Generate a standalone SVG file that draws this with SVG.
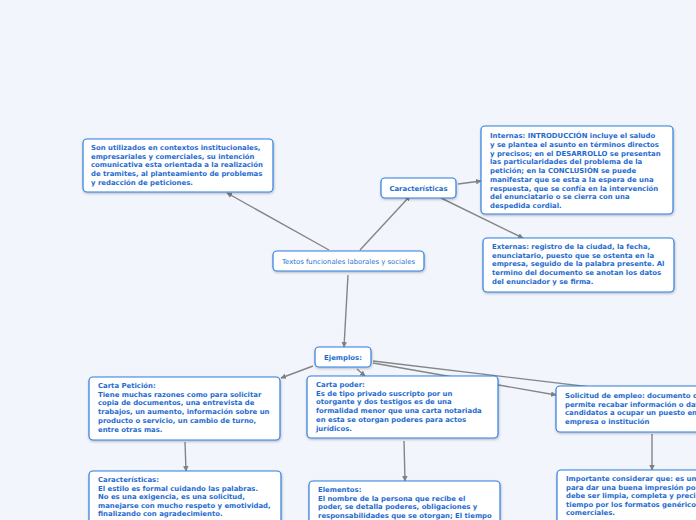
<svg xmlns="http://www.w3.org/2000/svg" width="696" height="520" viewBox="0 0 696 520">
<defs>
<marker id="ah" viewBox="0 0 10 10" refX="9" refY="5" markerWidth="5.5" markerHeight="5.5" orient="auto" markerUnits="userSpaceOnUse"><path d="M0,0 L10,5 L0,10 z" fill="#808080"/></marker>
<filter id="sh" x="-10%" y="-10%" width="120%" height="130%"><feDropShadow dx="0.5" dy="1.2" stdDeviation="0.8" flood-color="#000" flood-opacity="0.25"/></filter>
</defs>
<style>
.bx{fill:#fff;stroke:#2f7fe0;stroke-width:1.2;filter:url(#sh)}
.t{font-family:"DejaVu Sans",Verdana,sans-serif;font-size:6.9px;font-weight:bold;fill:#1e6bd0}
.tn{font-family:"DejaVu Sans",Verdana,sans-serif;font-size:6.9px;fill:#2a72d4}
.c{stroke:#858585;stroke-width:1.4;fill:none}
</style>
<rect width="696" height="520" fill="#f3f5fd"/>
<g id="connectors">
<line class="c" x1="329" y1="250" x2="227" y2="193" marker-end="url(#ah)"/>
<line class="c" x1="360" y1="250" x2="410" y2="196" marker-end="url(#ah)"/>
<line class="c" x1="458" y1="184" x2="481" y2="181" marker-end="url(#ah)"/>
<line class="c" x1="441" y1="198" x2="523" y2="238" marker-end="url(#ah)"/>
<line class="c" x1="348" y1="275" x2="344" y2="347" marker-end="url(#ah)"/>
<line class="c" x1="313" y1="366" x2="281" y2="378" marker-end="url(#ah)"/>
<line class="c" x1="357" y1="369" x2="365" y2="376" marker-end="url(#ah)"/>
<line class="c" x1="373" y1="363" x2="556" y2="395" marker-end="url(#ah)"/>
<line class="c" x1="373" y1="361" x2="700" y2="400"/>
<line class="c" x1="185" y1="442" x2="186" y2="471" marker-end="url(#ah)"/>
<line class="c" x1="404" y1="441" x2="405" y2="481" marker-end="url(#ah)"/>
<line class="c" x1="652" y1="434" x2="652" y2="470" marker-end="url(#ah)"/>
</g>
<g id="n-son"><rect class="bx" x="83" y="139" width="190" height="53" rx="4"/>
<text class="t" x="91" y="150">Son utilizados en contextos institucionales,<tspan x="91" dy="8.7">empresariales y comerciales, su intención</tspan><tspan x="91" dy="8.7">comunicativa esta orientada a la realización</tspan><tspan x="91" dy="8.7">de tramites, al planteamiento de problemas</tspan><tspan x="91" dy="8.7">y redacción de peticiones.</tspan></text></g>
<g id="n-caract"><rect class="bx" x="381" y="178" width="75" height="20" rx="4"/>
<text class="t" x="418.5" y="190.5" text-anchor="middle">Características</text></g>
<g id="n-internas"><rect class="bx" x="481" y="126" width="192" height="88" rx="4"/>
<text class="t" x="490" y="138">Internas:  INTRODUCCIÓN incluye el saludo<tspan x="490" dy="8.75">y se plantea el asunto en términos directos</tspan><tspan x="490" dy="8.75">y precisos; en el DESARROLLO se presentan</tspan><tspan x="490" dy="8.75">las particularidades del problema de la</tspan><tspan x="490" dy="8.75">petición; en la CONCLUSIÓN  se puede</tspan><tspan x="490" dy="8.75">manifestar que se esta a la espera de una</tspan><tspan x="490" dy="8.75">respuesta, que se confía en la intervención</tspan><tspan x="490" dy="8.75">del enunciatario o se cierra con una</tspan><tspan x="490" dy="8.75">despedida cordial.</tspan></text></g>
<g id="n-externas"><rect class="bx" x="483" y="238" width="191" height="54" rx="4"/>
<text class="t" x="492" y="249">Externas: registro de la ciudad, la fecha,<tspan x="492" dy="8.7">enunciatario, puesto que se ostenta en la</tspan><tspan x="492" dy="8.7">empresa, seguido de la palabra presente. Al</tspan><tspan x="492" dy="8.7">termino del documento se anotan los datos</tspan><tspan x="492" dy="8.7">del enunciador y se firma.</tspan></text></g>
<g id="n-central"><rect class="bx" x="273" y="251" width="151" height="20" rx="4"/>
<text class="tn" x="348.5" y="264" text-anchor="middle">Textos funcionales laborales y sociales</text></g>
<g id="n-ejemplos"><rect class="bx" x="315" y="347" width="56" height="20" rx="4"/>
<text class="t" x="343" y="360" text-anchor="middle">Ejemplos:</text></g>
<g id="n-peticion"><rect class="bx" x="89" y="377" width="191" height="63" rx="4"/>
<text class="t" x="98" y="388">Carta Petición:<tspan x="98" dy="8.7">Tiene muchas razones como para solicitar</tspan><tspan x="98" dy="8.7">copia de documentos, una entrevista de</tspan><tspan x="98" dy="8.7">trabajos, un aumento, información sobre un</tspan><tspan x="98" dy="8.7">producto o servicio, un cambio de turno,</tspan><tspan x="98" dy="8.7">entre otras mas.</tspan></text></g>
<g id="n-poder"><rect class="bx" x="307" y="376" width="191" height="62" rx="4"/>
<text class="t" x="316" y="387">Carta poder:<tspan x="316" dy="8.7">Es de tipo privado suscripto por un</tspan><tspan x="316" dy="8.7">otorgante y dos testigos es de una</tspan><tspan x="316" dy="8.7">formalidad menor que una carta notariada</tspan><tspan x="316" dy="8.7">en esta se otorgan poderes para actos</tspan><tspan x="316" dy="8.7">jurídicos.</tspan></text></g>
<g id="n-solicitud"><rect class="bx" x="556" y="386" width="160" height="46" rx="4"/>
<text class="t" x="565" y="398">Solicitud de empleo: documento que<tspan x="565" dy="8.7">permite recabar información o datos de</tspan><tspan x="565" dy="8.7">candidatos a ocupar un puesto en la</tspan><tspan x="565" dy="8.7">empresa o institución</tspan></text></g>
<g id="n-caract2"><rect class="bx" x="89" y="471" width="192" height="60" rx="4"/>
<text class="t" x="98" y="482">Características:<tspan x="98" dy="8.6">El estilo es formal cuidando las palabras.</tspan><tspan x="98" dy="8.6">No es una exigencia, es una solicitud,</tspan><tspan x="98" dy="8.6">manejarse con mucho respeto y emotividad,</tspan><tspan x="98" dy="8.6">finalizando con agradecimiento.</tspan></text></g>
<g id="n-elementos"><rect class="bx" x="309" y="481" width="191" height="50" rx="4"/>
<text class="t" x="318" y="492">Elementos:<tspan x="318" dy="8.6">El nombre de la persona que recibe el</tspan><tspan x="318" dy="8.6">poder, se detalla poderes, obligaciones y</tspan><tspan x="318" dy="8.6">responsabilidades que se otorgan; El tiempo</tspan></text></g>
<g id="n-importante"><rect class="bx" x="557" y="470" width="160" height="60" rx="4"/>
<text class="t" x="566" y="481">Importante considerar que: es un<tspan x="566" dy="8.6">para dar una buena impresión por</tspan><tspan x="566" dy="8.6">debe ser limpia, completa y precisa</tspan><tspan x="566" dy="8.6">tiempo por los formatos genéricos</tspan><tspan x="566" dy="8.6">comerciales.</tspan></text></g>
</svg>
